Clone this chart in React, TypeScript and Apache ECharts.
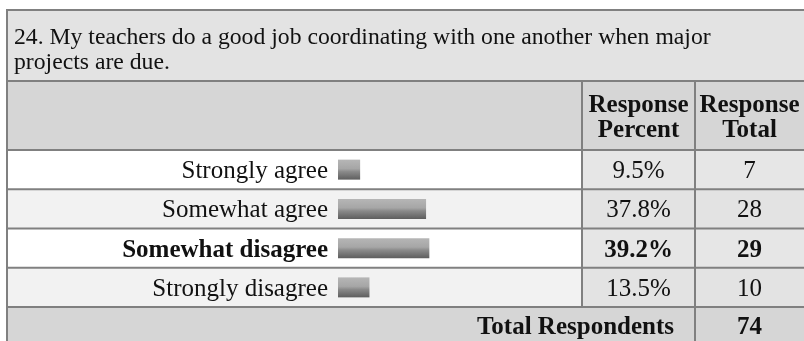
import React, { useEffect, useRef } from "react";
import * as echarts from "echarts";

const titleText = "24. My teachers do a good job coordinating with one another when major\nprojects are due.";
const categories = ["Strongly agree", "Somewhat agree", "Somewhat disagree", "Strongly disagree"];
const percents = [9.5, 37.8, 39.2, 13.5];
const totals = [7, 28, 29, 10];
const headerLabels = ["Response\nPercent", "Response\nTotal"];
const totalLabel = "Total Respondents";
const totalRespondents = 74;

const FONT = "'Liberation Serif', 'Times New Roman', serif";
const FS = 25;
const BORDER = "#808080";

export default function App() {
  const ref = useRef<HTMLDivElement>(null);
  useEffect(() => {
    if (!ref.current) return;
    const chart = echarts.init(ref.current, undefined, { renderer: "svg" });
    const maxIdx = percents.indexOf(Math.max(...percents));

    // layout (table geometry)
    const L = 7, R = 804;
    const titleTop = 10, titleBottom = 81;
    const headBottom = 150;
    const rowsBottom = 307;
    const colP = 582, colT = 695;
    const gridLeft = 338, gridWidth = 233;
    const rowH = (rowsBottom - headBottom) / categories.length;

    const graphics: any[] = [];
    graphics.push({ type: "rect", z: -20, shape: { x: L, y: titleTop, width: R - L, height: titleBottom - titleTop }, style: { fill: "#e3e3e3" } });
    graphics.push({ type: "rect", z: -20, shape: { x: L, y: titleBottom, width: R - L, height: headBottom - titleBottom }, style: { fill: "#d6d6d6" } });
    categories.forEach((_, i) => {
      const y = headBottom + i * rowH;
      graphics.push({ type: "rect", z: -20, shape: { x: L, y, width: colP - L, height: rowH }, style: { fill: i % 2 === 0 ? "#ffffff" : "#f2f2f2" } });
      graphics.push({ type: "rect", z: -20, shape: { x: colP, y, width: R - colP, height: rowH }, style: { fill: i % 2 === 0 ? "#e6e6e6" : "#e3e3e3" } });
    });
    graphics.push({ type: "rect", z: -20, shape: { x: L, y: rowsBottom, width: R - L, height: 341 - rowsBottom }, style: { fill: "#d6d6d6" } });

    // lines
    const hl = (y: number, x1: number, x2: number) =>
      graphics.push({ type: "line", z: -5, shape: { x1, y1: y, x2, y2: y }, style: { stroke: BORDER, lineWidth: 2 } });
    const vl = (x: number, y1: number, y2: number) =>
      graphics.push({ type: "line", z: -5, shape: { x1: x, y1, x2: x, y2 }, style: { stroke: BORDER, lineWidth: 2 } });
    hl(titleTop, L - 1, R);
    hl(titleBottom, L, R);
    for (let i = 0; i <= categories.length; i++) hl(headBottom + i * rowH, L, R);
    vl(L, titleTop - 1, 341);
    vl(colP, titleBottom, rowsBottom);
    vl(colT, titleBottom, 341);

    // texts
    graphics.push({ type: "text", z: 5, x: 14, y: 23, style: { text: titleText, font: `23.7px ${FONT}`, fill: "#111", lineHeight: 25 } });
    graphics.push({ type: "text", z: 5, x: (colP + colT) / 2, y: (titleBottom + headBottom) / 2, style: { text: headerLabels[0], font: `bold ${FS}px ${FONT}`, fill: "#111", align: "center", verticalAlign: "middle", lineHeight: 25 } });
    graphics.push({ type: "text", z: 5, x: (colT + R) / 2, y: (titleBottom + headBottom) / 2, style: { text: headerLabels[1], font: `bold ${FS}px ${FONT}`, fill: "#111", align: "center", verticalAlign: "middle", lineHeight: 25 } });
    graphics.push({ type: "text", z: 5, x: colT - 21, y: 325, style: { text: totalLabel, font: `bold ${FS}px ${FONT}`, fill: "#111", align: "right", verticalAlign: "middle" } });
    graphics.push({ type: "text", z: 5, x: (colT + R) / 2, y: 325, style: { text: String(totalRespondents), font: `bold ${FS}px ${FONT}`, fill: "#111", align: "center", verticalAlign: "middle" } });

    const rich = {
      n: { fontFamily: FONT, fontSize: FS, color: "#111" },
      b: { fontFamily: FONT, fontSize: FS, color: "#111", fontWeight: "bold" },
    };
    const fmt = (v: string, i: number) => (i === maxIdx ? `{b|${v}}` : `{n|${v}}`);
    const baseY = {
      type: "category",
      inverse: true,
      axisLine: { show: false },
      axisTick: { show: false },
      splitLine: { show: false },
      z: 10,
    };

    chart.setOption({
      animation: false,
      grid: { left: gridLeft, top: headBottom, width: gridWidth, height: rowsBottom - headBottom, containLabel: false },
      xAxis: { type: "value", min: 0, max: 100, show: false },
      yAxis: [
        { ...baseY, position: "left", data: categories, axisLabel: { margin: 10, formatter: fmt, rich } },
        {
          ...baseY, position: "right", data: percents.map((p) => `${p.toFixed(1)}%`),
          axisLabel: { margin: (colP + colT) / 2 - (gridLeft + gridWidth), align: "center", formatter: fmt, rich },
        },
        {
          ...baseY, position: "right", data: totals.map(String),
          axisLabel: { margin: (colT + R) / 2 - (gridLeft + gridWidth), align: "center", formatter: fmt, rich },
        },
      ],
      series: [
        {
          type: "bar",
          data: percents,
          barWidth: 20,
          z: 10,
          itemStyle: {
            color: new echarts.graphic.LinearGradient(0, 0, 0, 1, [
              { offset: 0, color: "#b6b6b6" },
              { offset: 0.45, color: "#a6a6a6" },
              { offset: 0.6, color: "#8a8a8a" },
              { offset: 1, color: "#5e5e5e" },
            ]),
          },
        },
      ],
      graphic: graphics,
    });
    return () => chart.dispose();
  }, []);
  return <div ref={ref} style={{ position: "fixed", left: 0, top: 0, width: 804, height: 341 }} />;
}
